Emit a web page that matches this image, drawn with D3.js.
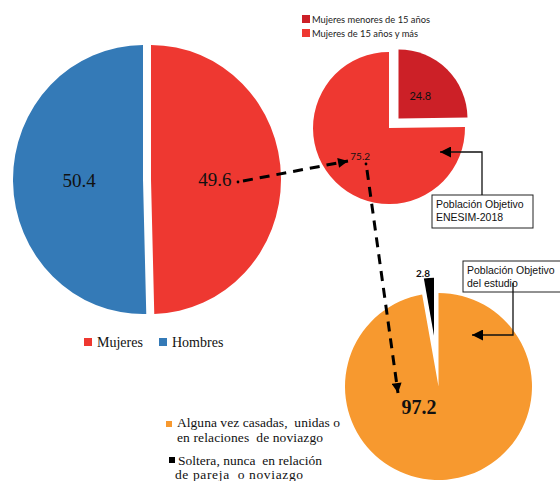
<!DOCTYPE html>
<html>
<head>
<meta charset="utf-8">
<script src="https://cdn.jsdelivr.net/npm/d3@7"></script>
<style>
  html, body { margin: 0; padding: 0; background: #fff; }
  svg { display: block; }
</style>
</head>
<body>
<svg id="chart" width="560" height="481"></svg>
<script>
// ---------- DATA ----------
const sexCategories = ["Mujeres", "Hombres"];
const sexValues = [49.6, 50.4];

const ageCategories = ["Mujeres menores de 15 años", "Mujeres de 15 años y más"];
const ageValues = [24.8, 75.2];

const relCategories = ["Alguna vez casadas, unidas o en relaciones de noviazgo",
                       "Soltera, nunca en relación de pareja o noviazgo"];
const relValues = [97.2, 2.8];

const calloutLabels = [["Población Objetivo", "ENESIM-2018"], ["Población Objetivo", "del estudio"]];

// ---------- STYLE ----------
const sexColors = ["#EE3831", "#347AB7"];
const ageColors = ["#CC2027", "#EE3831"];
const relColors = ["#F7992F", "#000000"];

const svg = d3.select("#chart");
const pie = d3.pie().sort(null).value(d => d);

function explode(angle, dist) {
  return [Math.sin(angle) * dist, -Math.cos(angle) * dist];
}

// ---------- PIE 1: Mujeres / Hombres ----------
{
  const cx = 147, cy = 179.5, r = 130;
  const g = svg.append("g").attr("transform", `translate(${cx},${cy}) scale(1,1.035)`);
  const arcs = pie(sexValues);
  const arc = d3.arc().innerRadius(0).outerRadius(r);
  arcs.forEach((d, i) => {
    const mid = (d.startAngle + d.endAngle) / 2;
    const [ox, oy] = explode(mid, 4);
    g.append("path")
      .attr("d", arc(d))
      .attr("transform", `translate(${ox},${oy})`)
      .attr("fill", sexColors[i]);
  });
  const labelArc = d3.arc().innerRadius(68).outerRadius(68);
  arcs.forEach((d, i) => {
    const [lx, ly] = labelArc.centroid(d);
    svg.append("text")
      .attr("x", cx + lx).attr("y", cy + ly + 7)
      .attr("text-anchor", "middle")
      .attr("font-family", "Liberation Serif, serif")
      .attr("font-size", 19)
      .attr("fill", "#111")
      .text(d.data.toFixed(1));
  });
  // legend
  const lg = [{x: 84, tx: 97}, {x: 159, tx: 172}];
  sexCategories.forEach((c, i) => {
    svg.append("rect").attr("x", lg[i].x).attr("y", 338).attr("width", 8).attr("height", 8).attr("fill", sexColors[i]);
    svg.append("text").attr("x", lg[i].tx).attr("y", 347)
      .attr("font-family", "Liberation Serif, serif").attr("font-size", 14).attr("fill", "#111")
      .text(c);
  });
}

// ---------- PIE 2: age ----------
{
  const cx = 389, cy = 128;
  const radii = [69, 76];
  const offs = [13.5, 0];
  const arcs = pie(ageValues);
  arcs.forEach((d, i) => {
    const mid = (d.startAngle + d.endAngle) / 2;
    const [ox, oy] = explode(mid, offs[i]);
    svg.append("path")
      .attr("d", d3.arc().innerRadius(0).outerRadius(radii[i])(d))
      .attr("transform", `translate(${cx + ox},${cy + oy})`)
      .attr("fill", ageColors[i]);
    const lr = i === 0 ? 31 : 41;
    const [lx, ly] = d3.arc().innerRadius(lr).outerRadius(lr).centroid(d);
    svg.append("text")
      .attr("x", cx + ox + lx).attr("y", cy + oy + ly + (i === 0 ? 4 : 3))
      .attr("text-anchor", "middle")
      .attr("font-family", "Lato, Liberation Sans, sans-serif")
      .attr("font-size", i === 0 ? 11 : 10)
      .attr("fill", "#111")
      .text(d.data.toFixed(1));
  });
  // legend
  const legW = [118, 106];
  ageCategories.forEach((c, i) => {
    svg.append("rect").attr("x", 302).attr("y", 15 + i * 14).attr("width", 8).attr("height", 8).attr("fill", ageColors[i]);
    svg.append("text").attr("x", 312).attr("y", 22.5 + i * 14)
      .attr("font-family", "Lato, Liberation Sans, sans-serif").attr("font-size", 10.2).attr("fill", "#222")
      .attr("textLength", legW[i]).attr("lengthAdjust", "spacingAndGlyphs")
      .text(c);
  });
}

// ---------- PIE 3: relation ----------
{
  const centers = [[438.5, 386.5], [438.5, 386.5]];
  const radii = [93.5, 58];
  const offs = [0, 51];
  const arcs = pie(relValues);
  arcs.forEach((d, i) => {
    const mid = (d.startAngle + d.endAngle) / 2;
    const [ox, oy] = explode(mid, offs[i]);
    svg.append("path")
      .attr("d", d3.arc().innerRadius(0).outerRadius(radii[i])(d))
      .attr("transform", `translate(${centers[i][0] + ox},${centers[i][1] + oy})`)
      .attr("fill", relColors[i]);
  });
  svg.append("text").attr("x", 419).attr("y", 414)
    .attr("text-anchor", "middle")
    .attr("font-family", "Liberation Serif, serif").attr("font-weight", "bold")
    .attr("font-size", 20).attr("fill", "#111")
    .text(relValues[0].toFixed(1));
  svg.append("text").attr("x", 423).attr("y", 277)
    .attr("text-anchor", "middle")
    .attr("font-family", "Lato, Liberation Sans, sans-serif").attr("font-weight", "bold")
    .attr("font-size", 10).attr("fill", "#111")
    .text(relValues[1].toFixed(1));
  // legend
  const legLines = [["Alguna vez casadas,  unidas o", "en relaciones  de noviazgo"],
                    ["Soltera, nunca  en relación", "de pareja  o noviazgo"]];
  const legWidths = [[163, 146], [144, 128]];
  const legX = [[177, 177], [178, 175]];
  const legY = [[427, 441.5], [464.5, 479]];
  const sqX = [166, 169];
  const sqY = [421, 457];
  legLines.forEach((lines, i) => {
    svg.append("rect").attr("x", sqX[i]).attr("y", sqY[i]).attr("width", 6).attr("height", 6).attr("fill", relColors[i]);
    lines.forEach((t, j) => {
      svg.append("text").attr("x", legX[i][j]).attr("y", legY[i][j])
        .attr("font-family", "Liberation Serif, serif").attr("font-size", 13.5).attr("fill", "#111")
        .attr("textLength", legWidths[i][j]).attr("lengthAdjust", "spacing")
        .style("white-space", "pre")
        .text(t);
    });
  });
}

// ---------- ARROWS ----------
const defs = svg.append("defs");
defs.append("marker").attr("id", "ah").attr("viewBox", "0 0 10 10")
  .attr("refX", 10).attr("refY", 5).attr("markerWidth", 12).attr("markerHeight", 10)
  .attr("markerUnits", "userSpaceOnUse").attr("orient", "auto")
  .append("path").attr("d", "M0,0 L10,5 L0,10 Z").attr("fill", "#000");
defs.append("marker").attr("id", "ah2").attr("viewBox", "0 0 10 10")
  .attr("refX", 10).attr("refY", 5).attr("markerWidth", 16).attr("markerHeight", 11)
  .attr("markerUnits", "userSpaceOnUse").attr("orient", "auto")
  .append("path").attr("d", "M0,0 L10,5 L0,10 Z").attr("fill", "#000");

// dashed arrow 49.6 -> 75.2
svg.append("circle").attr("cx", 238).attr("cy", 182).attr("r", 1.4).attr("fill", "#000");
svg.append("line").attr("x1", 243).attr("y1", 181).attr("x2", 348).attr("y2", 161)
  .attr("stroke", "#000").attr("stroke-width", 3).attr("stroke-dasharray", "10,7")
  .attr("marker-end", "url(#ah)");
// dashed arrow 75.2 -> 97.2
svg.append("circle").attr("cx", 366).attr("cy", 164).attr("r", 1.4).attr("fill", "#000");
svg.append("line").attr("x1", 367).attr("y1", 170).attr("x2", 398).attr("y2", 393)
  .attr("stroke", "#000").attr("stroke-width", 3).attr("stroke-dasharray", "10,7")
  .attr("marker-end", "url(#ah)");

// ---------- CALLOUTS ----------
const boxes = [
  {x: 432, y: 195, w: 101, h: 33, lx: 482, ly0: 195, ly1: 152, ax: 440},
  {x: 463, y: 261, w: 100, h: 31, lx: 513, ly0: 283, ly1: 335, ax: 472}
];
boxes.forEach((b, i) => {
  svg.append("rect").attr("x", b.x).attr("y", b.y).attr("width", b.w).attr("height", b.h)
    .attr("fill", "#fff").attr("stroke", "#222").attr("stroke-width", 1);
  calloutLabels[i].forEach((t, j) => {
    svg.append("text").attr("x", b.x + 4).attr("y", b.y + 13 + j * 12.5)
      .attr("font-family", "Liberation Sans, Arial, sans-serif").attr("font-size", 10.5).attr("fill", "#111")
      .text(t);
  });
  svg.append("path")
    .attr("d", `M${b.lx},${b.ly0} L${b.lx},${b.ly1} L${b.ax},${b.ly1}`)
    .attr("fill", "none").attr("stroke", "#111").attr("stroke-width", 1.3)
    .attr("marker-end", "url(#ah2)");
});
</script>
</body>
</html>
